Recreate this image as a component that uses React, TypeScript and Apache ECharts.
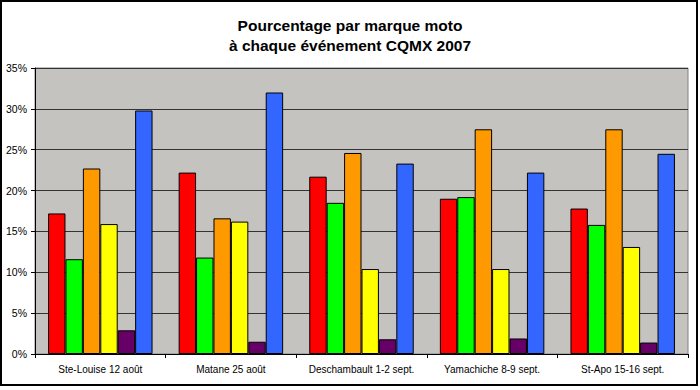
import React, { useEffect, useRef } from "react";
import * as echarts from "echarts";

const categories = [
  "Ste-Louise 12 août",
  "Matane 25 août",
  "Deschambault 1-2 sept.",
  "Yamachiche 8-9 sept.",
  "St-Apo 15-16 sept.",
];

const seriesNames = ["Honda", "Kawasaki", "KTM", "Suzuki", "Autres", "Yamaha"];
const seriesColors = ["#FF0000", "#00FF00", "#FF9900", "#FFFF00", "#660066", "#3366FF"];

const honda = [17.2, 22.2, 21.7, 19.0, 17.8];
const kawasaki = [11.6, 11.8, 18.5, 19.2, 15.8];
const ktm = [22.7, 16.6, 24.6, 27.5, 27.5];
const suzuki = [15.9, 16.2, 10.4, 10.4, 13.1];
const autres = [2.9, 1.5, 1.8, 1.9, 1.4];
const yamaha = [29.8, 32.0, 23.3, 22.2, 24.5];

const seriesValues = [honda, kawasaki, ktm, suzuki, autres, yamaha];

const yTicks = { min: 0, max: 35, interval: 5 };

const titleLines = ["Pourcentage par marque moto", "à chaque événement CQMX 2007"];

export default function App() {
  const ref = useRef<HTMLDivElement>(null);

  useEffect(() => {
    if (!ref.current) return;
    const chart = echarts.init(ref.current, null, { renderer: "svg" });
    chart.setOption({
      animation: false,
      backgroundColor: "#FFFFFF",
      title: {
        text: titleLines.join("\n"),
        left: "center",
        top: 15,
        padding: 0,
        textStyle: {
          fontFamily: "Liberation Sans, Arial, sans-serif",
          fontSize: 15.5,
          fontWeight: "bold",
          color: "#000",
          lineHeight: 20,
        },
      },
      graphic: [
        {
          type: "rect",
          shape: { x: 1, y: 1, width: 696, height: 384 },
          style: { fill: "none", stroke: "#000", lineWidth: 2 },
          silent: true,
        },
      ],
      grid: {
        left: 35,
        right: 12,
        top: 68,
        bottom: 36,
        show: true,
        backgroundColor: "#C4C3BF",
        borderColor: "#808080",
        borderWidth: 1,
      },
      xAxis: {
        type: "category",
        data: categories,
        axisLine: { show: true, lineStyle: { color: "#000", width: 1 } },
        axisTick: { show: true, length: 4, lineStyle: { color: "#000" } },
        axisLabel: {
          margin: 10,
          fontFamily: "Liberation Sans, Arial, sans-serif",
          fontSize: 10,
          color: "#000",
          interval: 0,
        },
      },
      yAxis: {
        type: "value",
        min: yTicks.min,
        max: yTicks.max,
        interval: yTicks.interval,
        axisLine: { show: true, lineStyle: { color: "#000", width: 1 } },
        axisTick: { show: true, length: 4, lineStyle: { color: "#000" } },
        axisLabel: {
          margin: 8,
          formatter: (v: number) => `${v}%`,
          fontFamily: "Liberation Sans, Arial, sans-serif",
          fontSize: 10.5,
          color: "#000",
        },
        splitLine: { show: true, lineStyle: { color: "#333", width: 1 } },
      },
      series: seriesNames.map((name, i) => ({
        name,
        type: "bar",
        data: seriesValues[i],
        barGap: "0%",
        barCategoryGap: "20%",
        itemStyle: {
          color: seriesColors[i],
          borderColor: "#000",
          borderWidth: 1,
        },
      })),
    });
    return () => chart.dispose();
  }, []);

  return (
    <div
      ref={ref}
      style={{ position: "fixed", left: 0, top: 0, width: 700, height: 390 }}
    />
  );
}
